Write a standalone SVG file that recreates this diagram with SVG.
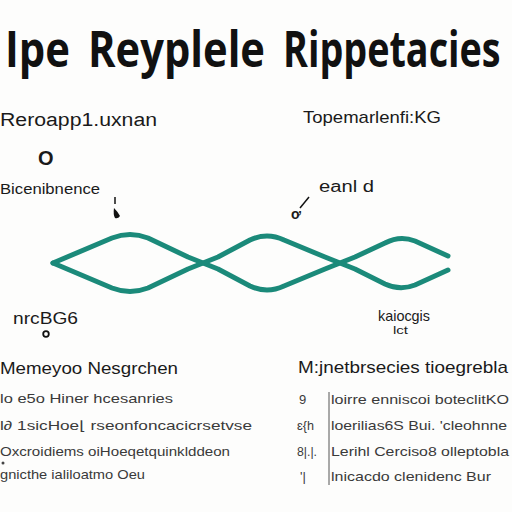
<svg xmlns="http://www.w3.org/2000/svg" width="512" height="512" viewBox="0 0 512 512">
<style>
.t{font-family:"Open Sans","Liberation Sans",sans-serif;font-weight:700;fill:#111}
.l{font-family:"Liberation Sans","DejaVu Sans",sans-serif;fill:#1a1a1a}
.b{font-family:"Liberation Sans","DejaVu Sans",sans-serif;fill:#3a3a3a}
.w{fill:none;stroke:#1b8a7a;stroke-width:5;stroke-linecap:round;stroke-linejoin:round}
</style>
<rect width="512" height="512" fill="#fdfdfc"/>
<g id="title">
<text class="t" x="5" y="67" font-size="50" textLength="65" lengthAdjust="spacingAndGlyphs">Ipe</text>
<text class="t" x="88" y="67" font-size="50" textLength="177" lengthAdjust="spacingAndGlyphs">Reyplele</text>
<text class="t" transform="translate(283,67) scale(0.78,1)" x="0" y="0" font-size="50" textLength="279" lengthAdjust="spacingAndGlyphs">Rippetacies</text>
</g>
<g id="labels-left">
<text class="l" x="0" y="126" font-size="18" textLength="157" lengthAdjust="spacingAndGlyphs">Reroapp1.uxnan</text>
<text class="l" x="38" y="165" font-size="20" font-weight="bold">O</text>
<text class="l" x="0" y="194" font-size="15" textLength="100" lengthAdjust="spacingAndGlyphs">Bicenibnence</text>
<line x1="115" y1="197" x2="115" y2="204" stroke="#111" stroke-width="1.5"/>
<path d="M114 208 Q118 212 120 216 Q118 219 115 218 Q113 215 114 208 Z" fill="#111"/>
<text class="l" x="13" y="324" font-size="16" fill="#333" textLength="65" lengthAdjust="spacingAndGlyphs">nrcBG6</text>
<circle cx="46" cy="334" r="2.8" fill="none" stroke="#111" stroke-width="1.8"/>
</g>
<g id="labels-right">
<text class="l" x="303" y="123" font-size="17" textLength="138" lengthAdjust="spacingAndGlyphs">Topemarlenfi:KG</text>
<text class="l" x="319" y="192" font-size="16" textLength="55" lengthAdjust="spacingAndGlyphs">eanl d</text>
<line x1="309" y1="197" x2="300" y2="208" stroke="#111" stroke-width="1.5"/>
<text class="l" x="291" y="219" font-size="14" font-weight="bold">ơ</text>
<text class="l" x="378" y="321" font-size="15" fill="#333" textLength="52" lengthAdjust="spacingAndGlyphs">kaiocgis</text>
<text class="l" x="393" y="334" font-size="10" fill="#333" textLength="15" lengthAdjust="spacingAndGlyphs">lct</text>
</g>
<g id="connectors">
<path class="w" d="M53 263 L112 238 Q130 231 148 238 L188 257 Q203 263 218 269 L250 286 Q267 294 284 286 L325 269 Q340 263 355 257 L385 243 Q400 235 415 241 L448 256"/>
<path class="w" d="M53 263 L112 288 Q130 295 148 288 L188 269 Q203 263 218 257 L250 240 Q267 232 284 240 L325 257 Q340 263 355 269 L385 284 Q400 291 415 285 L448 270"/>
</g>
<g id="legend-left">
<text class="l" x="0" y="374" font-size="17" textLength="178" lengthAdjust="spacingAndGlyphs">Memeyoo Nesgrchen</text>
<text class="b" x="0" y="403" font-size="13" textLength="173" lengthAdjust="spacingAndGlyphs">lo e5o Hiner hcesanries</text>
<text class="b" x="0" y="430" font-size="13" textLength="252" lengthAdjust="spacingAndGlyphs">l∂  1sicHoe⌊   rseonfoncacicrsetvse</text>
<text class="b" x="0" y="456" font-size="13" textLength="230" lengthAdjust="spacingAndGlyphs">Oxcroidiems oiHoeqetquinklddeon</text>
<circle cx="3" cy="463" r="1.5" fill="#444"/>
<text class="b" x="0" y="479" font-size="13" textLength="145" lengthAdjust="spacingAndGlyphs">gnicthe ialiloatmo  Oeu</text>
</g>
<g id="legend-right">
<text class="l" x="298" y="373" font-size="17" textLength="210" lengthAdjust="spacingAndGlyphs">M:jnetbrsecies tioegrebla</text>
<line x1="329" y1="392" x2="329" y2="485" stroke="#555" stroke-width="1"/>
<text class="b" x="299" y="404" font-size="13">9</text>
<text class="b" x="297" y="430" font-size="13" textLength="17" lengthAdjust="spacingAndGlyphs">ɛ{h</text>
<text class="b" x="297" y="456" font-size="13" textLength="20" lengthAdjust="spacingAndGlyphs">8|.|.</text>
<text class="b" x="300" y="481" font-size="13">'|</text>
<text class="b" x="331" y="404" font-size="13" textLength="178" lengthAdjust="spacingAndGlyphs">loirre enniscoi boteclitKO</text>
<text class="b" x="331" y="430" font-size="13" textLength="176" lengthAdjust="spacingAndGlyphs">loerilias6S Bui.  'cleohnne</text>
<text class="b" x="331" y="456" font-size="13" textLength="178" lengthAdjust="spacingAndGlyphs">Lerihl Cerciso8  olleptobla</text>
<text class="b" x="331" y="481" font-size="13" textLength="160" lengthAdjust="spacingAndGlyphs">lnicacdo  clenidenc Bur</text>
</g>
</svg>
